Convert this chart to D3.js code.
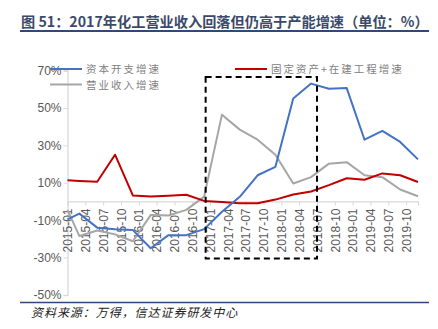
<!DOCTYPE html>
<html>
<head>
<meta charset="utf-8">
<script src="https://cdn.jsdelivr.net/npm/d3@7"></script>
<style>
  html, body { margin: 0; padding: 0; background: #fff; }
  svg { display: block; }
</style>
</head>
<body>
<svg id="chart" width="438" height="329"></svg>
<script>
// Quarterly observations (year-month)
const periods = ["2015-01","2015-03","2015-06","2015-09","2015-12",
                 "2016-03","2016-06","2016-09","2016-12",
                 "2017-03","2017-06","2017-09","2017-12",
                 "2018-03","2018-06","2018-09","2018-12",
                 "2019-03","2019-06","2019-09","2019-12"];

// 资本开支增速 (%)
const capexGrowth = [-9.6, -6.5, -14, -14.8, -15.3, -25, -18, -18, -14.8,
                     -5.5, 2.5, 14, 18.5, 55, 63, 60.2, 60.6, 33, 37.7, 31.8, 22.5];
// 营业收入增速 (%)
const revenueGrowth = [-4.5, -18.5, -15.5, -17.6, -21.3, -7.3, -7.5, -4.5, 2.6,
                       46.4, 38.4, 33, 25, 9.6, 13, 20.2, 21, 14, 13, 6.4, 2.8];
// 固定资产+在建工程增速 (%)
const fixedAssetGrowth = [11.3, 11, 10.5, 25, 3.2, 2.6, 3.0, 3.6, 0.3,
                          -0.3, -1, -1, 1, 3.7, 5.3, 8.7, 12.4, 11.6, 15, 14, 10.4];

const xTickLabels = ["2015-01","2015-04","2015-07","2015-10","2016-01","2016-04","2016-07","2016-10",
                     "2017-01","2017-04","2017-07","2017-10","2018-01","2018-04","2018-07","2018-10",
                     "2019-01","2019-04","2019-07","2019-10"];
const yTicks = [-50, -30, -10, 10, 30, 50, 70];

const seriesNames = ["资本开支增速", "营业收入增速", "固定资产+在建工程增速"];
const seriesColors = ["#4472C4", "#A6A6A6", "#C00000"];

const title = "图 51：2017年化工营业收入回落但仍高于产能增速（单位：%）";
const source = "资料来源：万得，信达证券研发中心";

// highlighted window
const windowStart = "2016-12", windowEnd = "2018-07";

const monthIndex = s => { const [y, m] = s.split("-").map(Number); return (y - 2015) * 12 + (m - 1); };

const svg = d3.select("#chart");
const x = d3.scaleLinear().domain([0, 59]).range([67.5, 418]);
const y = d3.scaleLinear().domain([-50, 70]).range([295, 70.5]);

const axisColor = "#D9D9D9";
const labelColor = "#595959";
const font = "'Liberation Sans', Arial, sans-serif";
const cjk = "'Noto Sans CJK SC', sans-serif";

// title and rules
svg.append("text").attr("x", 21).attr("y", 26.5)
  .attr("font-family", cjk).attr("font-weight", "bold").attr("font-size", 14.2)
  .attr("fill", "#3B4A6B").text(title);
svg.append("line").attr("x1", 20).attr("x2", 429).attr("y1", 31).attr("y2", 31)
  .attr("stroke", "#2F4A78").attr("stroke-width", 2);
svg.append("line").attr("x1", 20).attr("x2", 429).attr("y1", 302.5).attr("y2", 302.5)
  .attr("stroke", "#2F4A78").attr("stroke-width", 1.5);
svg.append("text").attr("x", 31).attr("y", 317)
  .attr("font-family", cjk).attr("font-style", "italic").attr("font-size", 12)
  .attr("letter-spacing", 0.95).attr("fill", "#222").text(source);

// y axis
const yAxis = d3.axisLeft(y).tickValues(yTicks).tickSize(4).tickFormat(d => d + "%");
const gy = svg.append("g").attr("transform", "translate(67.5,0)").call(yAxis);
gy.select(".domain").attr("stroke", axisColor).attr("stroke-width", 1.3);
gy.selectAll(".tick line").attr("stroke", axisColor);
gy.selectAll(".tick text").attr("font-family", font).attr("font-size", 12)
  .attr("fill", labelColor).attr("x", -6);

// x axis at zero
const xAxis = d3.axisBottom(x)
  .tickValues(xTickLabels.map(monthIndex))
  .tickSize(4)
  .tickFormat((d, i) => xTickLabels[i]);
const gx = svg.append("g").attr("transform", `translate(0,${y(0)})`).call(xAxis);
gx.select(".domain").attr("stroke", axisColor).attr("stroke-width", 1.3);
gx.selectAll(".tick line").attr("stroke", axisColor);
gx.selectAll(".tick text")
  .attr("font-family", font).attr("font-size", 12).attr("fill", labelColor)
  .attr("transform", "rotate(-90)")
  .attr("text-anchor", "end").attr("dy", "0.35em").attr("x", -7).attr("y", 0);

// series lines
const allSeries = [capexGrowth, revenueGrowth, fixedAssetGrowth];
const line = d3.line().x((d, i) => x(monthIndex(periods[i]))).y(d => y(d));
[1, 2, 0].forEach(k => {
  svg.append("path").datum(allSeries[k])
    .attr("fill", "none").attr("stroke", seriesColors[k]).attr("stroke-width", 2)
    .attr("stroke-linejoin", "round").attr("d", line);
});

// dashed highlight box
const bx0 = x(monthIndex(windowStart)) + 1.5, bx1 = x(monthIndex(windowEnd));
svg.append("rect").attr("x", bx0).attr("y", y(66.5))
  .attr("width", bx1 - bx0).attr("height", y(-30.5) - y(66.5))
  .attr("fill", "none").attr("stroke", "#000").attr("stroke-width", 2)
  .attr("stroke-dasharray", "6,4");

// legend
const legendItems = [
  { name: seriesNames[0], color: seriesColors[0], x: 50, y: 69 },
  { name: seriesNames[1], color: seriesColors[1], x: 50, y: 84.5 },
  { name: seriesNames[2], color: seriesColors[2], x: 235, y: 69 }
];
const lg = svg.append("g").selectAll("g").data(legendItems).join("g")
  .attr("transform", d => `translate(${d.x},${d.y})`);
lg.append("line").attr("x1", 0).attr("x2", 32).attr("stroke", d => d.color).attr("stroke-width", 2);
lg.append("text").attr("x", 36).attr("y", 4)
  .attr("font-family", cjk).attr("font-size", 10.5).attr("letter-spacing", 2)
  .attr("fill", "#808080").text(d => d.name);
</script>
</body>
</html>
